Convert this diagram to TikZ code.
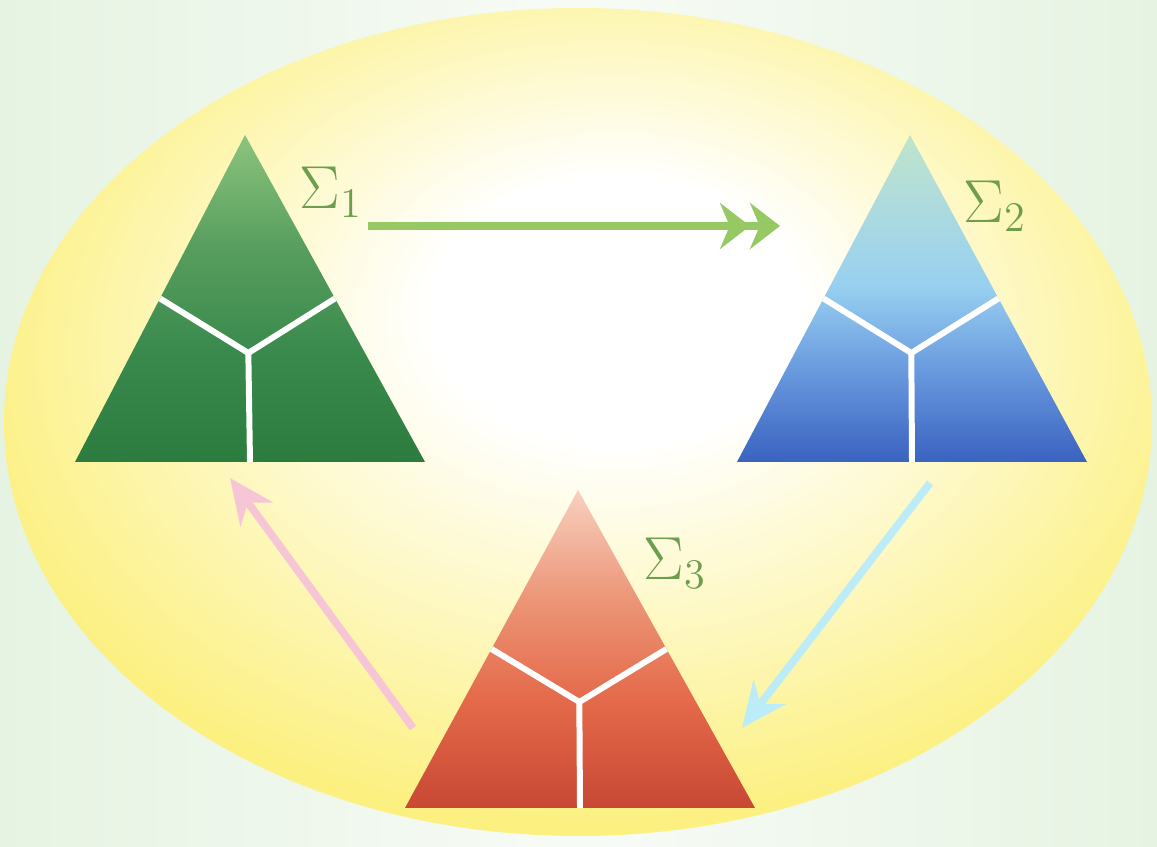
\documentclass[tikz,border=0pt]{standalone}
\usepackage{amsmath,amssymb}
\usepackage{tikz}
\usetikzlibrary{calc,arrows.meta}
\definecolor{bgpale}{RGB}{230,243,226}
\definecolor{ovalyel}{RGB}{252,240,128}
\definecolor{labgreen}{RGB}{108,158,78}
\definecolor{arrgreen}{RGB}{150,200,100}
\definecolor{arrcyan}{RGB}{188,236,248}
\definecolor{arrpink}{RGB}{246,198,214}
% pyramid colours, apex to base
\definecolor{gtop}{RGB}{140,196,126}
\definecolor{gmid}{RGB}{88,158,94}
\definecolor{glow}{RGB}{58,138,78}
\definecolor{gbot}{RGB}{44,124,64}
\definecolor{btop}{RGB}{192,228,204}
\definecolor{bmid}{RGB}{152,208,240}
\definecolor{blow}{RGB}{108,158,224}
\definecolor{bbot}{RGB}{58,98,192}
\definecolor{rtop}{RGB}{248,208,192}
\definecolor{rmid}{RGB}{236,150,120}
\definecolor{rlow}{RGB}{228,106,74}
\definecolor{rbot}{RGB}{200,72,52}
\pgfdeclareradialshading{ovalshade}{\pgfpoint{2bp}{8bp}}{color(0bp)=(white); color(8bp)=(white); color(28bp)=(ovalyel); color(50bp)=(ovalyel)}
\pgfdeclareverticalshading{greenpyr}{100bp}{color(0bp)=(gbot); color(25bp)=(gbot); color(42bp)=(glow); color(58bp)=(gmid); color(75bp)=(gtop); color(100bp)=(gtop)}
\pgfdeclareverticalshading{bluepyr}{100bp}{color(0bp)=(bbot); color(25bp)=(bbot); color(40bp)=(blow); color(52bp)=(bmid); color(75bp)=(btop); color(100bp)=(btop)}
\pgfdeclareverticalshading{redpyr}{100bp}{color(0bp)=(rbot); color(25bp)=(rbot); color(42bp)=(rlow); color(58bp)=(rmid); color(75bp)=(rtop); color(100bp)=(rtop)}

\begin{document}
\begin{tikzpicture}
        % 1 unit = 100 px of the 1157 x 847 picture
        \useasboundingbox (0,0) rectangle (11.57,8.47);
        \shade[left color=bgpale, right color=bgpale, middle color=white!70!bgpale] (0,0) rectangle (11.57,8.47);

        % yellow oval
        \shade[shading=ovalshade] (5.78,4.25) ellipse (5.74 and 4.14);

        % Sigma_1 (green)
        \coordinate (G1) at (2.45,7.12);
        \coordinate (G2) at (0.75,3.85);
        \coordinate (G3) at (4.25,3.85);
        \coordinate (GC) at (barycentric cs:G1=1,G2=1,G3=1);
        \shade[shading=greenpyr] (G1) -- (G2) -- (G3) -- cycle;
        \draw[white, line width=1.7pt] ($(G1)!.5!(G2)$) -- (GC) -- ($(G1)!.5!(G3)$);
        \draw[white, line width=1.7pt] (GC) -- ($(G2)!.5!(G3)$);

        % Sigma_2 (blue)
        \coordinate (B1) at (9.10,7.12);
        \coordinate (B2) at (7.37,3.85);
        \coordinate (B3) at (10.87,3.85);
        \coordinate (BC) at (barycentric cs:B1=1,B2=1,B3=1);
        \shade[shading=bluepyr] (B1) -- (B2) -- (B3) -- cycle;
        \draw[white, line width=1.7pt] ($(B1)!.5!(B2)$) -- (BC) -- ($(B1)!.5!(B3)$);
        \draw[white, line width=1.7pt] (BC) -- ($(B2)!.5!(B3)$);

        % Sigma_3 (red)
        \coordinate (R1) at (5.78,3.57);
        \coordinate (R2) at (4.05,0.39);
        \coordinate (R3) at (7.55,0.39);
        \coordinate (RC) at (barycentric cs:R1=1,R2=1,R3=1);
        \shade[shading=redpyr] (R1) -- (R2) -- (R3) -- cycle;
        \draw[white, line width=1.7pt] ($(R1)!.5!(R2)$) -- (RC) -- ($(R1)!.5!(R3)$);
        \draw[white, line width=1.7pt] (RC) -- ($(R2)!.5!(R3)$);

        % labels
        \node[labgreen, font=\LARGE] (s1) at (3.31,6.55) {$\Sigma_1$};
        \node[labgreen, font=\LARGE] (s2) at (9.95,6.41) {$\Sigma_2$};
        \node[labgreen, font=\LARGE] (s3) at (6.75,2.84) {$\Sigma_3$};

        % arrows
        \coordinate (a1) at (3.68,6.21);
        \coordinate (a2) at (7.80,6.21);
        \coordinate (b1) at (9.30,3.64);
        \coordinate (b2) at (7.42,1.19);
        \coordinate (c1) at (4.13,1.19);
        \coordinate (c2) at (2.30,3.69);
        \draw[arrgreen, line width=2.3pt, -{Stealth[length=3mm,width=4.6mm]Stealth[length=3mm,width=4.6mm]}] (a1) -- (a2);
        \draw[arrcyan, line width=2.2pt, -{Stealth[length=4.5mm,width=4mm]}] (b1) -- (b2);
        \draw[arrpink, line width=2.2pt, -{Stealth[length=4.5mm,width=4mm]}] (c1) -- (c2);
    \end{tikzpicture}
\end{document}
